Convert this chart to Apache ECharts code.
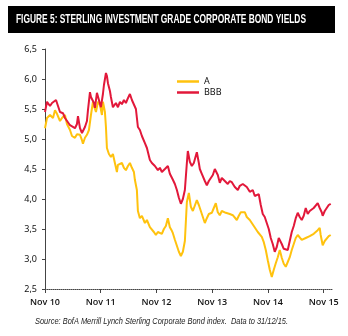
<!DOCTYPE html>
<html>
<head>
<meta charset="utf-8">
<script src="https://cdn.jsdelivr.net/npm/echarts@6/dist/echarts.min.js"></script>
<style>
html,body{margin:0;padding:0;background:#fff;}
#c{width:348px;height:336px;}
</style>
</head>
<body>
<div id="c"></div>
<script>
// x positions: months since 1 Nov 2010
var tickLabels = ['Nov 10','Nov 11','Nov 12','Nov 13','Nov 14','Nov 15'];
var tickMonths = [0,12,24,36,48,60];

var monthsA = [0,0.43,1.08,1.72,2.15,2.58,3.23,3.66,4.30,4.73,5.38,5.81,6.45,6.88,7.53,7.96,8.17,8.60,9.03,9.46,9.89,10.32,10.54,10.97,11.40,11.83,12.26,12.47,12.69,12.90,13.12,13.33,13.76,14.19,14.62,15.05,15.48,15.70,16.13,16.56,16.99,17.42,17.85,18.28,18.71,19.14,19.35,19.78,20.00,20.43,20.86,21.08,21.51,21.94,22.15,22.58,23.01,23.44,23.87,24.30,24.73,25.16,25.59,26.02,26.45,26.88,27.31,27.53,27.96,28.39,28.82,29.25,29.68,30.11,30.54,30.97,31.40,31.83,32.26,32.69,33.12,33.55,33.98,34.41,34.84,35.27,35.91,36.34,36.77,37.20,37.63,38.06,38.49,38.92,39.35,39.78,40.43,40.86,41.29,41.72,42.15,42.58,43.01,43.44,44.09,44.52,44.95,45.38,45.81,46.24,46.67,47.10,47.53,47.96,48.39,48.82,49.25,49.68,50.11,50.54,50.97,51.40,51.83,52.26,52.69,53.12,53.55,53.98,54.41,54.84,55.27,55.70,56.13,56.56,56.99,57.42,57.85,58.28,58.71,59.14,59.35,59.78,60.22,60.65,61.08,61.51];
var yieldA = [5.18,5.35,5.40,5.35,5.48,5.42,5.30,5.35,5.40,5.25,5.15,5.05,5.02,5.08,5.07,4.98,4.92,5.02,5.07,5.15,5.40,5.62,5.55,5.45,5.62,5.57,5.40,5.62,5.60,5.45,5.20,4.85,4.75,4.70,4.75,4.60,4.45,4.57,4.55,4.60,4.52,4.48,4.55,4.60,4.52,4.45,4.32,4.15,3.80,3.68,3.72,3.70,3.60,3.65,3.68,3.53,3.50,3.45,3.40,3.45,3.43,3.42,3.50,3.55,3.68,3.53,3.47,3.43,3.32,3.22,3.12,3.05,3.12,3.30,3.95,4.10,3.87,3.80,3.82,3.98,3.90,3.80,3.70,3.60,3.68,3.75,3.77,3.85,3.93,3.78,3.73,3.80,3.82,3.77,3.78,3.75,3.73,3.70,3.65,3.72,3.78,3.77,3.78,3.70,3.65,3.60,3.55,3.55,3.45,3.42,3.37,3.28,3.15,2.98,2.82,2.70,2.82,2.93,3.03,3.15,3.02,2.92,2.87,2.95,3.03,3.15,3.25,3.35,3.40,3.43,3.32,3.30,3.35,3.33,3.38,3.37,3.42,3.45,3.48,3.52,3.40,3.23,3.30,3.32,3.38,3.40];

var monthsBBB = [0,0.43,1.08,1.51,1.94,2.37,2.80,3.23,3.87,4.30,4.73,5.38,5.81,6.45,6.88,7.10,7.53,7.96,8.17,8.60,9.03,9.25,9.68,9.89,10.11,10.54,10.75,11.18,11.61,12.04,12.47,12.69,13.12,13.33,13.55,13.98,14.19,14.62,15.05,15.27,15.70,16.13,16.56,16.99,17.42,17.85,18.28,18.71,19.14,19.57,20.00,20.43,20.86,21.51,21.94,22.58,23.01,23.66,24.30,24.73,25.16,25.81,26.45,26.88,27.53,27.96,28.39,28.82,29.25,29.68,30.11,30.54,30.75,31.18,31.61,32.04,32.47,32.69,33.12,33.33,33.76,34.41,34.84,35.27,35.70,36.13,36.56,36.77,37.20,37.63,38.06,38.71,39.35,39.78,40.22,40.86,41.51,41.94,42.58,43.01,43.44,44.09,44.73,45.16,45.59,46.02,46.45,46.88,47.31,47.74,48.17,48.60,49.03,49.46,49.89,50.32,50.54,50.97,51.40,51.83,52.26,52.69,53.12,53.55,53.98,54.41,54.84,55.27,55.70,56.13,56.56,56.99,57.42,57.85,58.28,58.71,59.14,59.57,59.78,60.22,60.65,61.08,61.51];
var yieldBBB = [5.45,5.62,5.55,5.60,5.58,5.65,5.55,5.45,5.43,5.35,5.32,5.23,5.25,5.18,5.25,5.38,5.18,5.10,5.12,5.20,5.30,5.48,5.78,5.70,5.68,5.60,5.52,5.77,5.65,5.53,5.75,5.90,6.10,6.05,5.93,5.80,5.70,5.53,5.55,5.60,5.53,5.62,5.58,5.65,5.60,5.68,5.75,5.65,5.68,5.50,5.20,5.15,5.05,4.93,4.85,4.65,4.60,4.55,4.48,4.52,4.45,4.50,4.55,4.42,4.32,4.25,4.15,4.02,3.92,4.00,4.15,4.60,4.80,4.62,4.55,4.60,4.72,4.78,4.60,4.50,4.42,4.30,4.23,4.30,4.35,4.40,4.50,4.53,4.40,4.27,4.35,4.30,4.25,4.30,4.28,4.20,4.15,4.22,4.25,4.28,4.20,4.12,4.15,4.05,4.02,4.08,3.90,3.75,3.70,3.60,3.50,3.35,3.25,3.12,3.20,3.35,3.38,3.25,3.17,3.20,3.15,3.30,3.45,3.55,3.68,3.77,3.70,3.65,3.72,3.85,3.75,3.80,3.78,3.85,3.82,3.93,3.85,3.78,3.72,3.80,3.85,3.90,3.92];

var seriesNames = ['A','BBB'];
var seriesColors = ['#FFC20E','#E2183A'];
var titleText = 'FIGURE 5: STERLING INVESTMENT GRADE CORPORATE BOND YIELDS';
var sourceText = 'Source: BofA Merrill Lynch Sterling Corporate Bond index.  Data to 31/12/15.';

function pairs(xs, ys){ return xs.map(function(x,i){ return [x, ys[i]]; }); }

var titleFont = 'bold 12.5px "Liberation Sans", Arial, sans-serif';
var sourceFont = 'italic 8.5px "Liberation Sans", Arial, sans-serif';
var mctx = document.createElement('canvas').getContext('2d');
function fitScale(text, font, target){ mctx.font = font; return target / mctx.measureText(text).width; }
var titleScale = fitScale(titleText, titleFont, 290);
var sourceScale = fitScale(sourceText, sourceFont, 253);

var chart = echarts.init(document.getElementById('c'), null, {renderer:'canvas'});
chart.setOption({
  animation:false,
  backgroundColor:'#ffffff',
  graphic:[
    {type:'rect', x:8, y:6, shape:{width:327, height:27}, style:{fill:'#000'}},
    {type:'text', x:16, y:20, scaleX:titleScale, style:{text:titleText, fill:'#fff', font:titleFont, verticalAlign:'middle'}},
    {type:'text', x:35, y:322, scaleX:sourceScale, style:{text:sourceText, fill:'#222', font:sourceFont, verticalAlign:'middle'}}
  ],
  grid:{left:45, right:15, top:49, bottom:47, containLabel:false},
  legend:{
    orient:'vertical', left:177, top:76, padding:0, itemGap:0, itemWidth:22, itemHeight:2.5,
    textStyle:{fontFamily:'Noto Sans', fontSize:9, color:'#111', lineHeight:11},
    data:[{name:'A', icon:'rect'},{name:'BBB', icon:'rect'}]
  },
  xAxis:{
    type:'value', min:0, max:62,
    axisLine:{show:true, lineStyle:{color:'#444', width:1, type:'dotted'}},
    axisTick:{show:true, length:4, customValues:tickMonths, lineStyle:{color:'#444'}},
    axisLabel:{customValues:tickMonths, margin:9, fontFamily:'Open Sans', fontWeight:600, fontSize:9, color:'#111',
      formatter:function(v){ var i = tickMonths.indexOf(v); return i>=0 ? tickLabels[i] : ''; }},
    splitLine:{show:false}
  },
  yAxis:{
    type:'value', min:2.5, max:6.5, interval:0.5,
    axisLine:{show:true, lineStyle:{color:'#444', width:1}},
    axisTick:{show:true, inside:false, length:3, lineStyle:{color:'#444'}},
    axisLabel:{margin:8, fontFamily:'Noto Sans', fontSize:9, color:'#111',
      formatter:function(v){ return v.toFixed(1).replace('.',','); }},
    splitLine:{show:false}
  },
  series:[
    {name:seriesNames[0], type:'line', data:pairs(monthsA, yieldA), showSymbol:false, symbol:'none',
      lineStyle:{color:seriesColors[0], width:2}, itemStyle:{color:seriesColors[0]}},
    {name:seriesNames[1], type:'line', data:pairs(monthsBBB, yieldBBB), showSymbol:false, symbol:'none',
      lineStyle:{color:seriesColors[1], width:2}, itemStyle:{color:seriesColors[1]}}
  ]
});
</script>
</body>
</html>
